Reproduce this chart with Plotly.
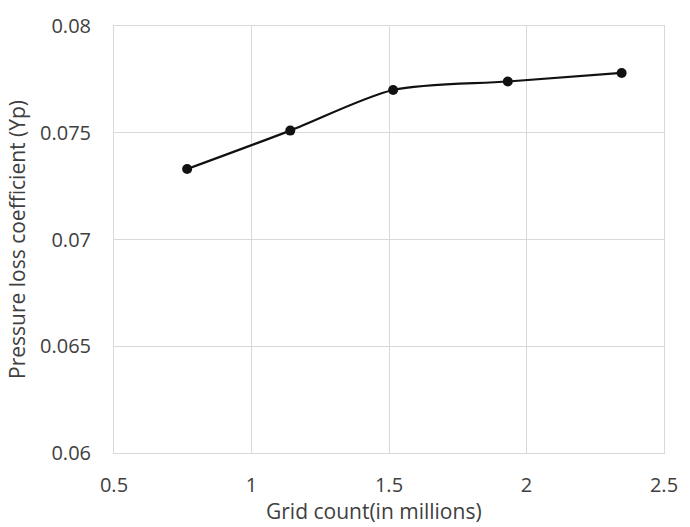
import plotly.graph_objects as go

grid_count = [0.766, 1.141, 1.515, 1.932, 2.346]
yp = [0.0733, 0.0751, 0.0770, 0.0774, 0.0778]
x_ticks = [0.5, 1, 1.5, 2, 2.5]
x_labels = ["0.5", "1", "1.5", "2", "2.5"]
y_ticks = [0.06, 0.065, 0.07, 0.075, 0.08]
y_labels = ["0.06", "0.065", "0.07", "0.075", "0.08"]

fam = "Open Sans, Liberation Sans, sans-serif"
tick_font = dict(family=fam, size=20, color="#404040")
title_font = dict(family=fam, size=21, color="#404040")

fig = go.Figure()
fig.add_trace(go.Scatter(
    x=grid_count, y=yp, mode="lines+markers",
    line=dict(color="#111111", width=2.2, shape="spline", smoothing=0.8),
    marker=dict(color="#111111", size=10),
    showlegend=False,
))

fig.update_layout(
    width=690, height=527,
    margin=dict(l=114, r=16, t=16, b=74),
    paper_bgcolor="white", plot_bgcolor="white",
    font=tick_font,
    xaxis=dict(
        range=[0.5, 2.5], tickvals=x_ticks, ticktext=x_labels,
        showgrid=True, gridcolor="#d9d9d9", gridwidth=1,
        showline=True, linecolor="#d9d9d9", mirror=True, zeroline=False,
        ticks="", tickfont=tick_font, ticklabelstandoff=14,
    ),
    yaxis=dict(
        range=[0.06, 0.08], tickvals=y_ticks, ticktext=y_labels,
        showgrid=True, gridcolor="#d9d9d9", gridwidth=1,
        showline=True, linecolor="#d9d9d9", mirror=True, zeroline=False,
        ticks="", tickfont=tick_font, ticklabelstandoff=18,
        title=dict(text="Pressure loss coefficient (Yp)", font=title_font, standoff=8),
    ),
    annotations=[dict(
        text="Grid count(in millions)", xref="paper", yref="paper",
        x=0.473, y=0, yshift=-58, xanchor="center", yanchor="middle",
        showarrow=False, font=title_font,
    )],
)
fig.write_html("out.html")
